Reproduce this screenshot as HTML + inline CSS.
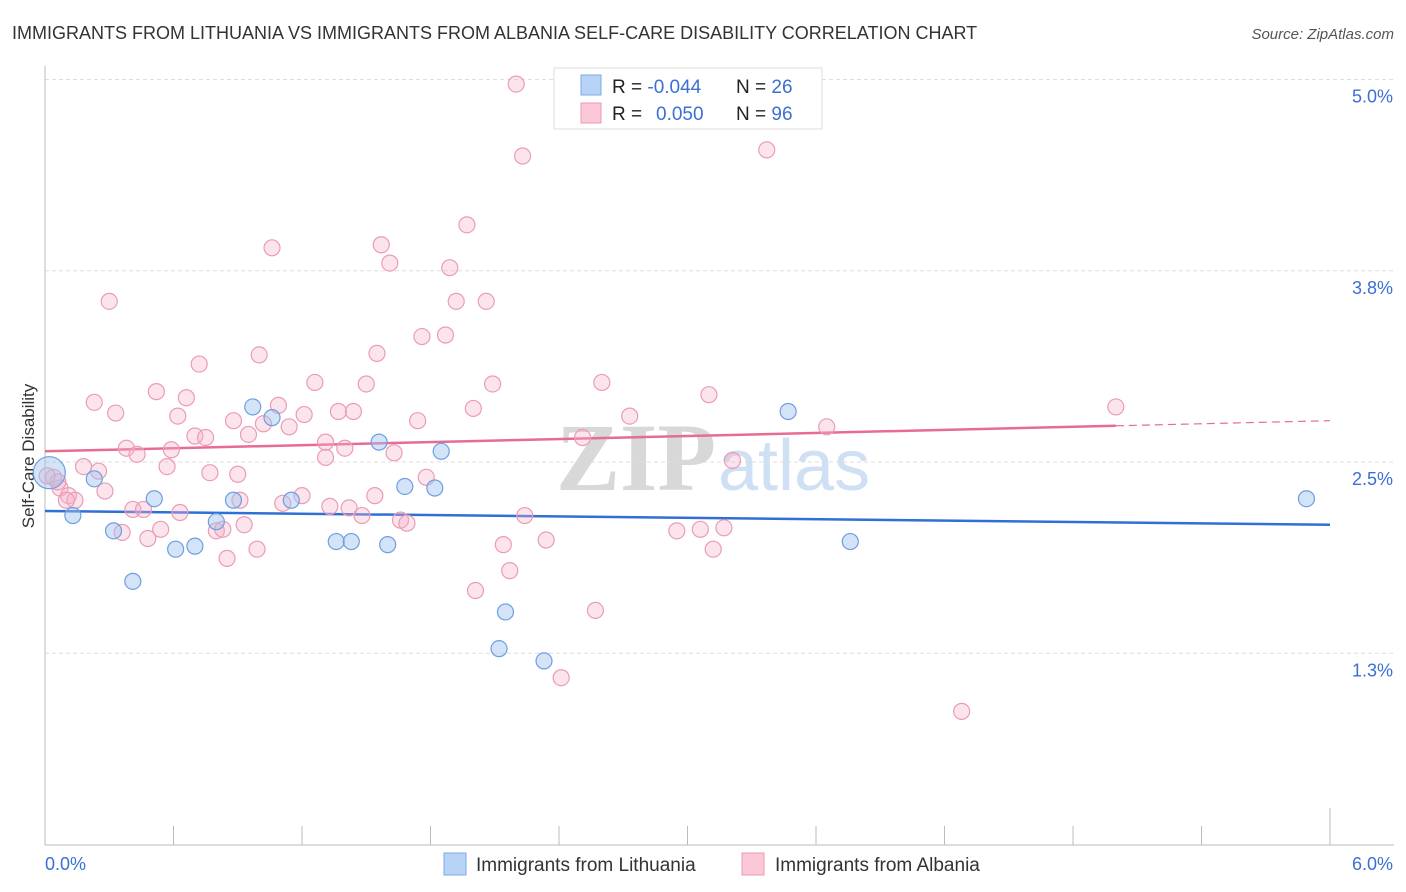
<!DOCTYPE html>
<html><head><meta charset="utf-8"><style>
body{margin:0;background:#fff;font-family:"Liberation Sans",sans-serif;}
#wrap{position:relative;width:1406px;height:892px;overflow:hidden;}
</style></head><body>
<div id="wrap">
<svg id="svg" width="1406" height="892" xmlns="http://www.w3.org/2000/svg">
<text x="12" y="39" font-size="18" fill="#333">IMMIGRANTS FROM LITHUANIA VS IMMIGRANTS FROM ALBANIA SELF-CARE DISABILITY CORRELATION CHART</text>
<text x="1394" y="39" font-size="15" fill="#555" font-style="italic" text-anchor="end">Source: ZipAtlas.com</text>
<text x="34" y="456" font-size="17" fill="#333" text-anchor="middle" transform="rotate(-90 34 456)">Self-Care Disability</text>
<text x="556" y="490" font-size="96" fill="#d8d8d8" font-family="Liberation Serif,serif" font-weight="bold">ZIP</text>
<text x="718" y="490" font-size="72" fill="#cfe0f4">atlas</text>
<g id="grid"></g><g id="axes"></g><g id="trend"></g><g id="pts"></g>
<g>
<rect x="554" y="68" width="268" height="61" fill="#fff" stroke="#ddd"/>
<rect x="581" y="75" width="20" height="20" fill="#b7d3f5" stroke="#7eaae6"/>
<rect x="581" y="103" width="20" height="20" fill="#fac8d6" stroke="#ec9ab3"/>
<text x="612" y="93" font-size="19" fill="#222">R = <tspan fill="#3b6fd4">-0.044</tspan><tspan x="736">N = </tspan><tspan fill="#3b6fd4">26</tspan></text>
<text x="612" y="120" font-size="19" fill="#222">R = <tspan x="656" fill="#3b6fd4">0.050</tspan><tspan x="736">N = </tspan><tspan fill="#3b6fd4">96</tspan></text>
</g>
<g>
<rect x="444" y="853" width="22" height="22" fill="#b7d3f5" stroke="#7eaae6"/>
<text x="476" y="871" font-size="19" fill="#333">Immigrants from Lithuania</text>
<rect x="742" y="853" width="22" height="22" fill="#fac8d6" stroke="#ec9ab3"/>
<text x="775" y="871" font-size="19" fill="#333">Immigrants from Albania</text>
</g>
</svg></div>
<script>
const yTicks=[5.0,3.75,2.5,1.25];
const yTickLabels=["5.0%","3.8%","2.5%","1.3%"];
const xTickLabels=["0.0%","6.0%"];
const blueX=[0.02,0.13,0.23,0.32,0.41,0.51,0.61,0.70,0.80,0.88,0.97,1.06,1.15,1.36,1.43,1.56,1.60,1.68,1.82,1.85,2.12,2.15,2.33,3.47,3.76,5.89];
const blueY=[2.43,2.15,2.39,2.05,1.72,2.26,1.93,1.95,2.11,2.25,2.86,2.79,2.25,1.98,1.98,2.63,1.96,2.34,2.33,2.57,1.28,1.52,1.20,2.83,1.98,2.26];
const pinkX=[2.20,2.23,3.37,1.97,1.57,1.06,1.61,1.89,0.30,1.92,2.06,1.76,1.87,1.55,1.00,0.72,2.09,2.60,1.26,1.50,0.52,0.66,0.23,3.10,2.00,1.09,0.33,0.62,1.37,1.44,1.21,1.74,0.88,1.02,2.73,5.00,3.65,1.14,0.70,0.75,0.95,2.51,0.38,0.59,1.31,0.43,1.40,1.63,1.31,3.21,0.57,0.18,0.25,0.77,0.90,1.78,0.04,0.07,0.28,0.11,0.14,1.54,1.20,1.11,0.41,0.46,0.63,1.33,1.42,1.48,2.24,1.66,1.69,0.93,0.80,0.83,0.54,0.36,0.48,2.34,2.14,2.95,3.06,3.17,3.12,0.99,0.85,2.17,2.01,2.57,2.41,4.28,0.06,0.10,0.01,0.91];
const pinkY=[4.97,4.50,4.54,4.05,3.92,3.90,3.80,3.77,3.55,3.55,3.55,3.32,3.33,3.21,3.20,3.14,3.01,3.02,3.02,3.01,2.96,2.92,2.89,2.94,2.85,2.87,2.82,2.80,2.83,2.83,2.81,2.77,2.77,2.75,2.80,2.86,2.73,2.73,2.67,2.66,2.68,2.66,2.59,2.58,2.63,2.55,2.59,2.56,2.53,2.51,2.47,2.47,2.44,2.43,2.42,2.40,2.40,2.33,2.31,2.28,2.25,2.28,2.28,2.23,2.19,2.19,2.17,2.21,2.20,2.15,2.15,2.12,2.10,2.09,2.05,2.06,2.06,2.04,2.00,1.99,1.96,2.05,2.06,2.07,1.93,1.93,1.87,1.79,1.66,1.53,1.09,0.87,2.37,2.25,2.41,2.25];
const blueTrend=[2.18,2.09];
const pinkTrend=[2.57,2.77];
const pinkSolidEnd=5.0;
const X=v=>45+v*214.17, Y=v=>844.5-v*153;
const NS="http://www.w3.org/2000/svg";
function mk(t,a,p){const e=document.createElementNS(NS,t);for(const k in a)e.setAttribute(k,a[k]);p.appendChild(e);return e;}
const grid=document.getElementById('grid'),axes=document.getElementById('axes'),trend=document.getElementById('trend'),pts=document.getElementById('pts');
yTicks.forEach((t,i)=>{
 const l=mk('line',{x1:45,x2:1394,y1:Y(t),y2:Y(t),stroke:'#ddd','stroke-dasharray':'4 3'},grid);
 
 
 const tx=mk('text',{x:1393,y:Y(t)+23,'font-size':18,fill:'#3b6fd4','text-anchor':'end'},grid);
 tx.textContent=yTickLabels[i];
 
 
});
const ax=mk('line',{x1:45,x2:1394,y1:845,y2:845,stroke:'#bbb'},axes);


const ay=mk('line',{x1:45,x2:45,y1:66,y2:845,stroke:'#bbb'},axes);


for(let i=0;i<=10;i++){const xx=X(i*0.6);const t=mk('line',{x1:xx,x2:xx,y1:i==10?808:826,y2:845,stroke:'#bbb'},axes);
 
 }
const xl0=mk('text',{x:45,y:870,'font-size':18,fill:'#3b6fd4'},axes);xl0.textContent=xTickLabels[0];


const xl1=mk('text',{x:1393,y:870,'font-size':18,fill:'#3b6fd4','text-anchor':'end'},axes);xl1.textContent=xTickLabels[1];


pinkX.forEach((x,i)=>{const c=mk('circle',{cx:X(x),cy:Y(pinkY[i]),r:8,fill:'rgba(246,178,200,0.35)',stroke:'#eb9cb4','stroke-width':1.2},pts);
 
 });
blueX.forEach((x,i)=>{const c=mk('circle',{cx:X(x),cy:Y(blueY[i]),r:i==0?16:8,fill:'rgba(160,196,240,0.45)',stroke:'#6f9de0','stroke-width':1.2},pts);
 
 });
const bt=mk('line',{x1:X(0),x2:X(6),y1:Y(blueTrend[0]),y2:Y(blueTrend[1]),stroke:'#2f6fd6','stroke-width':2.5},trend);


const pe=pinkTrend[0]+(pinkTrend[1]-pinkTrend[0])*pinkSolidEnd/6;
const pt=mk('line',{x1:X(0),x2:X(pinkSolidEnd),y1:Y(pinkTrend[0]),y2:Y(pe),stroke:'#e86b93','stroke-width':2.5},trend);


const pd=mk('line',{x1:X(pinkSolidEnd),x2:X(6),y1:Y(pe),y2:Y(pinkTrend[1]),stroke:'#e86b93','stroke-width':1.2,'stroke-dasharray':'8 5'},trend);


</script>
</body></html>
